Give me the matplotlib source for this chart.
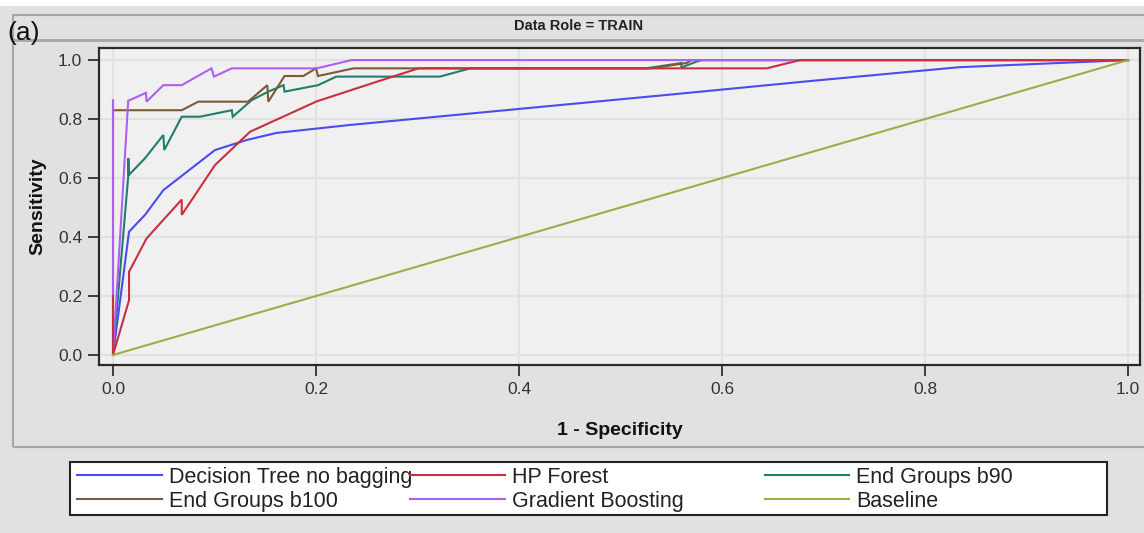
import matplotlib
matplotlib.use("Agg")
import matplotlib.pyplot as plt
from matplotlib.patches import Rectangle
from matplotlib.lines import Line2D

plt.rcParams['font.family'] = ['Liberation Sans', 'DejaVu Sans']

# ---------------- data ----------------
dt_x = [0, 0.0158, 0.0315, 0.0496, 0.1005, 0.1317, 0.161, 0.2335, 0.549, 0.687, 0.834, 1.0]
dt_y = [0, 0.418, 0.475, 0.559, 0.695, 0.729, 0.753, 0.78, 0.883, 0.929, 0.976, 1.0]

hp_x = [0, 0, 0.0158, 0.0158, 0.033, 0.0677, 0.0677, 0.1005, 0.135, 0.2007, 0.263, 0.301, 0.644, 0.677, 1.0]
hp_y = [0.2, 0, 0.186, 0.282, 0.395, 0.527, 0.475, 0.644, 0.757, 0.86, 0.93, 0.972, 0.972, 1.0, 1.0]

b90_x = [0, 0.0151, 0.0151, 0.0155, 0.0315, 0.0496, 0.0505, 0.0677, 0.0857, 0.117, 0.118, 0.1365,
         0.153, 0.168, 0.169, 0.202, 0.22, 0.322, 0.352, 0.525, 0.56, 0.56, 0.575, 0.58, 1.0]
b90_y = [0, 0.61, 0.667, 0.61, 0.667, 0.746, 0.695, 0.808, 0.808, 0.83, 0.808, 0.864,
         0.893, 0.915, 0.893, 0.915, 0.944, 0.944, 0.972, 0.972, 0.99, 0.975, 0.995, 1.0, 1.0]

b100_x = [0, 0, 0.0677, 0.084, 0.133, 0.152, 0.153, 0.169, 0.1875, 0.2, 0.202, 0.237, 0.53, 0.565, 0.57, 1.0]
b100_y = [0, 0.83, 0.83, 0.859, 0.859, 0.915, 0.859, 0.946, 0.946, 0.972, 0.946, 0.972, 0.972, 0.99, 1.0, 1.0]

gb_x = [0, 0, 0.015, 0.0325, 0.033, 0.0496, 0.0677, 0.097, 0.0995, 0.117, 0.2007, 0.235, 1.0]
gb_y = [0.864, 0, 0.862, 0.889, 0.859, 0.915, 0.915, 0.972, 0.944, 0.972, 0.972, 1.0, 1.0]

base_x = [0, 1]
base_y = [0, 1]

labels = ["Decision Tree no bagging", "HP Forest", "End Groups b90",
          "End Groups b100", "Gradient Boosting", "Baseline"]
colors = ["#4b4bef", "#c8303f", "#1f7d6c", "#7b5a38", "#ad5ff0", "#9aae48"]
xticks = [0.0, 0.2, 0.4, 0.6, 0.8, 1.0]
yticks = [0.0, 0.2, 0.4, 0.6, 0.8, 1.0]

# ---------------- figure ----------------
W, H = 1144, 533
fig = plt.figure(figsize=(W / 100, H / 100), dpi=100, facecolor="#e1e1e1")

def fx(px):
    return px / W

def fy(py):
    return 1 - py / H

fig.patches.append(Rectangle((0, fy(6)), 1, 6 / H, transform=fig.transFigure,
                             facecolor="white", edgecolor="none", zorder=0))
fig.patches.append(Rectangle((fx(13), fy(447)), 1.0, (447 - 15) / H, transform=fig.transFigure,
                             facecolor="none", edgecolor="#a6a6a6", lw=1.5, zorder=1))
fig.lines.append(Line2D([fx(13), 1], [fy(40), fy(40)], transform=fig.transFigure,
                        color="#a6a6a6", lw=2))
fig.text(fx(579), fy(26), "Data Role = TRAIN", ha="center", va="center",
         fontsize=10.5, fontweight="bold", color="#222222")
fig.text(fx(7), fy(33), "(a)", ha="left", va="center", fontsize=19, color="#111111")

ax = fig.add_axes([fx(99), fy(365), (1140 - 99) / W, (365 - 48) / H])
ax.set_facecolor("#f0f0f0")

series = [(dt_x, dt_y), (hp_x, hp_y), (b90_x, b90_y), (b100_x, b100_y), (gb_x, gb_y), (base_x, base_y)]
zorders = [2.0, 2.4, 2.1, 2.2, 2.3, 2.5]
handles = []
for (xs, ys), lab, col, z in zip(series, labels, colors, zorders):
    h, = ax.plot(xs, ys, color=col, lw=1.5, label=lab, zorder=z, solid_joinstyle="miter")
    handles.append(h)

ax.set_xlim(-0.0138, 1.0118)
ax.set_ylim(-0.034, 1.041)
ax.set_xticks(xticks)
ax.set_yticks(yticks)
ax.set_xticklabels([f"{t:.1f}" for t in xticks])
ax.set_yticklabels([f"{t:.1f}" for t in yticks])
ax.grid(True, color="#e2e2e2", lw=1.6, zorder=1)
ax.set_axisbelow(True)
ax.tick_params(direction="out", length=8, width=1.2, colors="#222222",
               labelsize=12.5, labelcolor="#333333", pad=4)
for s in ax.spines.values():
    s.set_color("#2a2a2a")
    s.set_linewidth(1.6)

ax.set_xlabel("1 - Specificity", fontsize=14, fontweight="bold", color="#111111")
ax.set_ylabel("Sensitivity", fontsize=14, fontweight="bold", color="#111111")
ax.xaxis.set_label_coords(0.5, -0.18)
ax.yaxis.set_label_coords(-0.051, 0.5)

# ---------------- legend ----------------
fig.patches.append(Rectangle((fx(70), fy(515)), (1107 - 70) / W, (515 - 462) / H,
                             transform=fig.transFigure, facecolor="white",
                             edgecolor="#222222", lw=1.5, zorder=1))
fs = 15.5
fs_px = fs * 100 / 72
cols = [([handles[0], handles[3]], 77, 85),
        ([handles[1], handles[4]], 410, 95),
        ([handles[2], handles[5]], 765, 84)]
for hs, x0, hl in cols:
    fig.legend(handles=hs, labels=[h.get_label() for h in hs], loc="upper left",
               bbox_to_anchor=(fx(x0), fy(467)), bbox_transform=fig.transFigure,
               frameon=False, fontsize=fs, handlelength=hl / fs_px,
               handletextpad=7 / fs_px, borderpad=0, borderaxespad=0,
               labelspacing=0.12, labelcolor="#222222")

fig.savefig("out.png", dpi=100, facecolor=fig.get_facecolor())
